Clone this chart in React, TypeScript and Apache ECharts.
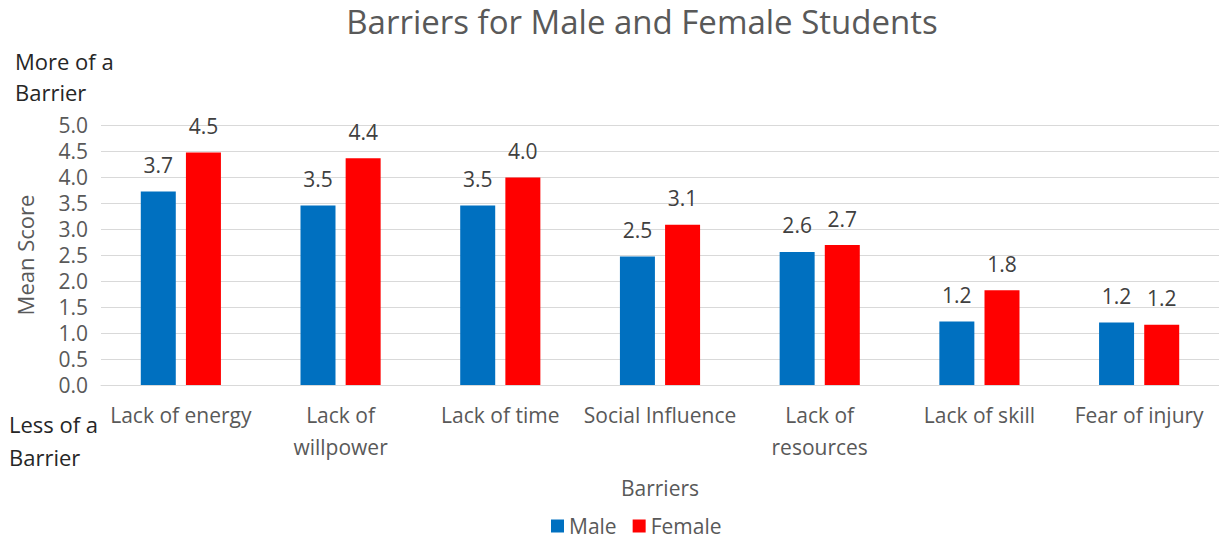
import React, { useEffect, useRef } from "react";
import * as echarts from "echarts";

const categories = [
  "Lack of energy",
  "Lack of\nwillpower",
  "Lack of time",
  "Social Influence",
  "Lack of\nresources",
  "Lack of skill",
  "Fear of injury",
];
const maleValues = [3.72, 3.45, 3.45, 2.47, 2.56, 1.22, 1.2];
const femaleValues = [4.47, 4.36, 3.99, 3.08, 2.69, 1.82, 1.16];
const seriesNames = ["Male", "Female"];
const FONT = "'Open Sans', sans-serif";

export default function App() {
  const ref = useRef<HTMLDivElement>(null);
  useEffect(() => {
    document.body.style.margin = "0";
    const chart = echarts.init(ref.current!, undefined, { renderer: "svg" });
    const labelCfg = {
      show: true,
      position: "top" as const,
      distance: 16,
      fontSize: 21,
      color: "#404040",
      fontFamily: FONT,
      formatter: (p: any) => Number(p.value).toFixed(1),
    };
    chart.setOption({
      animation: false,
      textStyle: { fontFamily: FONT },
      title: {
        text: "Barriers for Male and Female Students",
        left: 637,
        top: 0,
        textAlign: "center",
        textStyle: { fontSize: 33, fontWeight: "normal", color: "#595959", fontFamily: FONT },
      },
      legend: {
        data: seriesNames,
        left: 546,
        top: 510,
        padding: [4, 5, 4, 5],
        icon: "rect",
        itemWidth: 13,
        itemHeight: 13,
        itemGap: 16,
        textStyle: { fontSize: 21, color: "#595959", fontFamily: FONT, lineHeight: 24 },
      },
      grid: { left: 101, right: -1, top: 125, bottom: 157, containLabel: false },
      xAxis: {
        type: "category",
        data: categories,
        name: "Barriers",
        nameLocation: "middle",
        nameGap: 92,
        nameTextStyle: { fontSize: 21, color: "#595959", fontFamily: FONT },
        axisLine: { lineStyle: { color: "#d9d9d9" } },
        axisTick: { show: false },
        axisLabel: { interval: 0, fontSize: 21, color: "#595959", lineHeight: 32, margin: 14, fontFamily: FONT },
      },
      yAxis: {
        type: "value",
        min: 0,
        max: 5,
        interval: 0.5,
        name: "Mean Score",
        nameLocation: "middle",
        nameRotate: 90,
        nameGap: 65,
        nameTextStyle: { fontSize: 22, color: "#595959", fontFamily: FONT },
        axisLine: { show: false },
        axisTick: { show: false },
        splitLine: { lineStyle: { color: "#d9d9d9", width: 1 } },
        axisLabel: {
          fontSize: 21,
          color: "#595959",
          margin: 13,
          fontFamily: FONT,
          formatter: (v: number) => v.toFixed(1),
        },
      },
      graphic: [
        { type: "text", left: 15, top: 50, style: { text: "More of a", fontSize: 22, fill: "#262626", fontFamily: FONT } },
        { type: "text", left: 15, top: 81, style: { text: "Barrier", fontSize: 22, fill: "#262626", fontFamily: FONT } },
        { type: "text", left: 9, top: 413, style: { text: "Less of a", fontSize: 22, fill: "#262626", fontFamily: FONT } },
        { type: "text", left: 9, top: 446, style: { text: "Barrier", fontSize: 22, fill: "#262626", fontFamily: FONT } },
      ],
      series: [
        {
          name: seriesNames[0],
          type: "bar",
          data: maleValues,
          barWidth: 35,
          barGap: "29%",
          itemStyle: { color: "#0070C0" },
          label: labelCfg,
        },
        {
          name: seriesNames[1],
          type: "bar",
          data: femaleValues,
          barWidth: 35,
          itemStyle: { color: "#FF0000" },
          label: labelCfg,
        },
      ],
    });
    return () => chart.dispose();
  }, []);
  return <div ref={ref} style={{ width: 1219, height: 542 }} />;
}
